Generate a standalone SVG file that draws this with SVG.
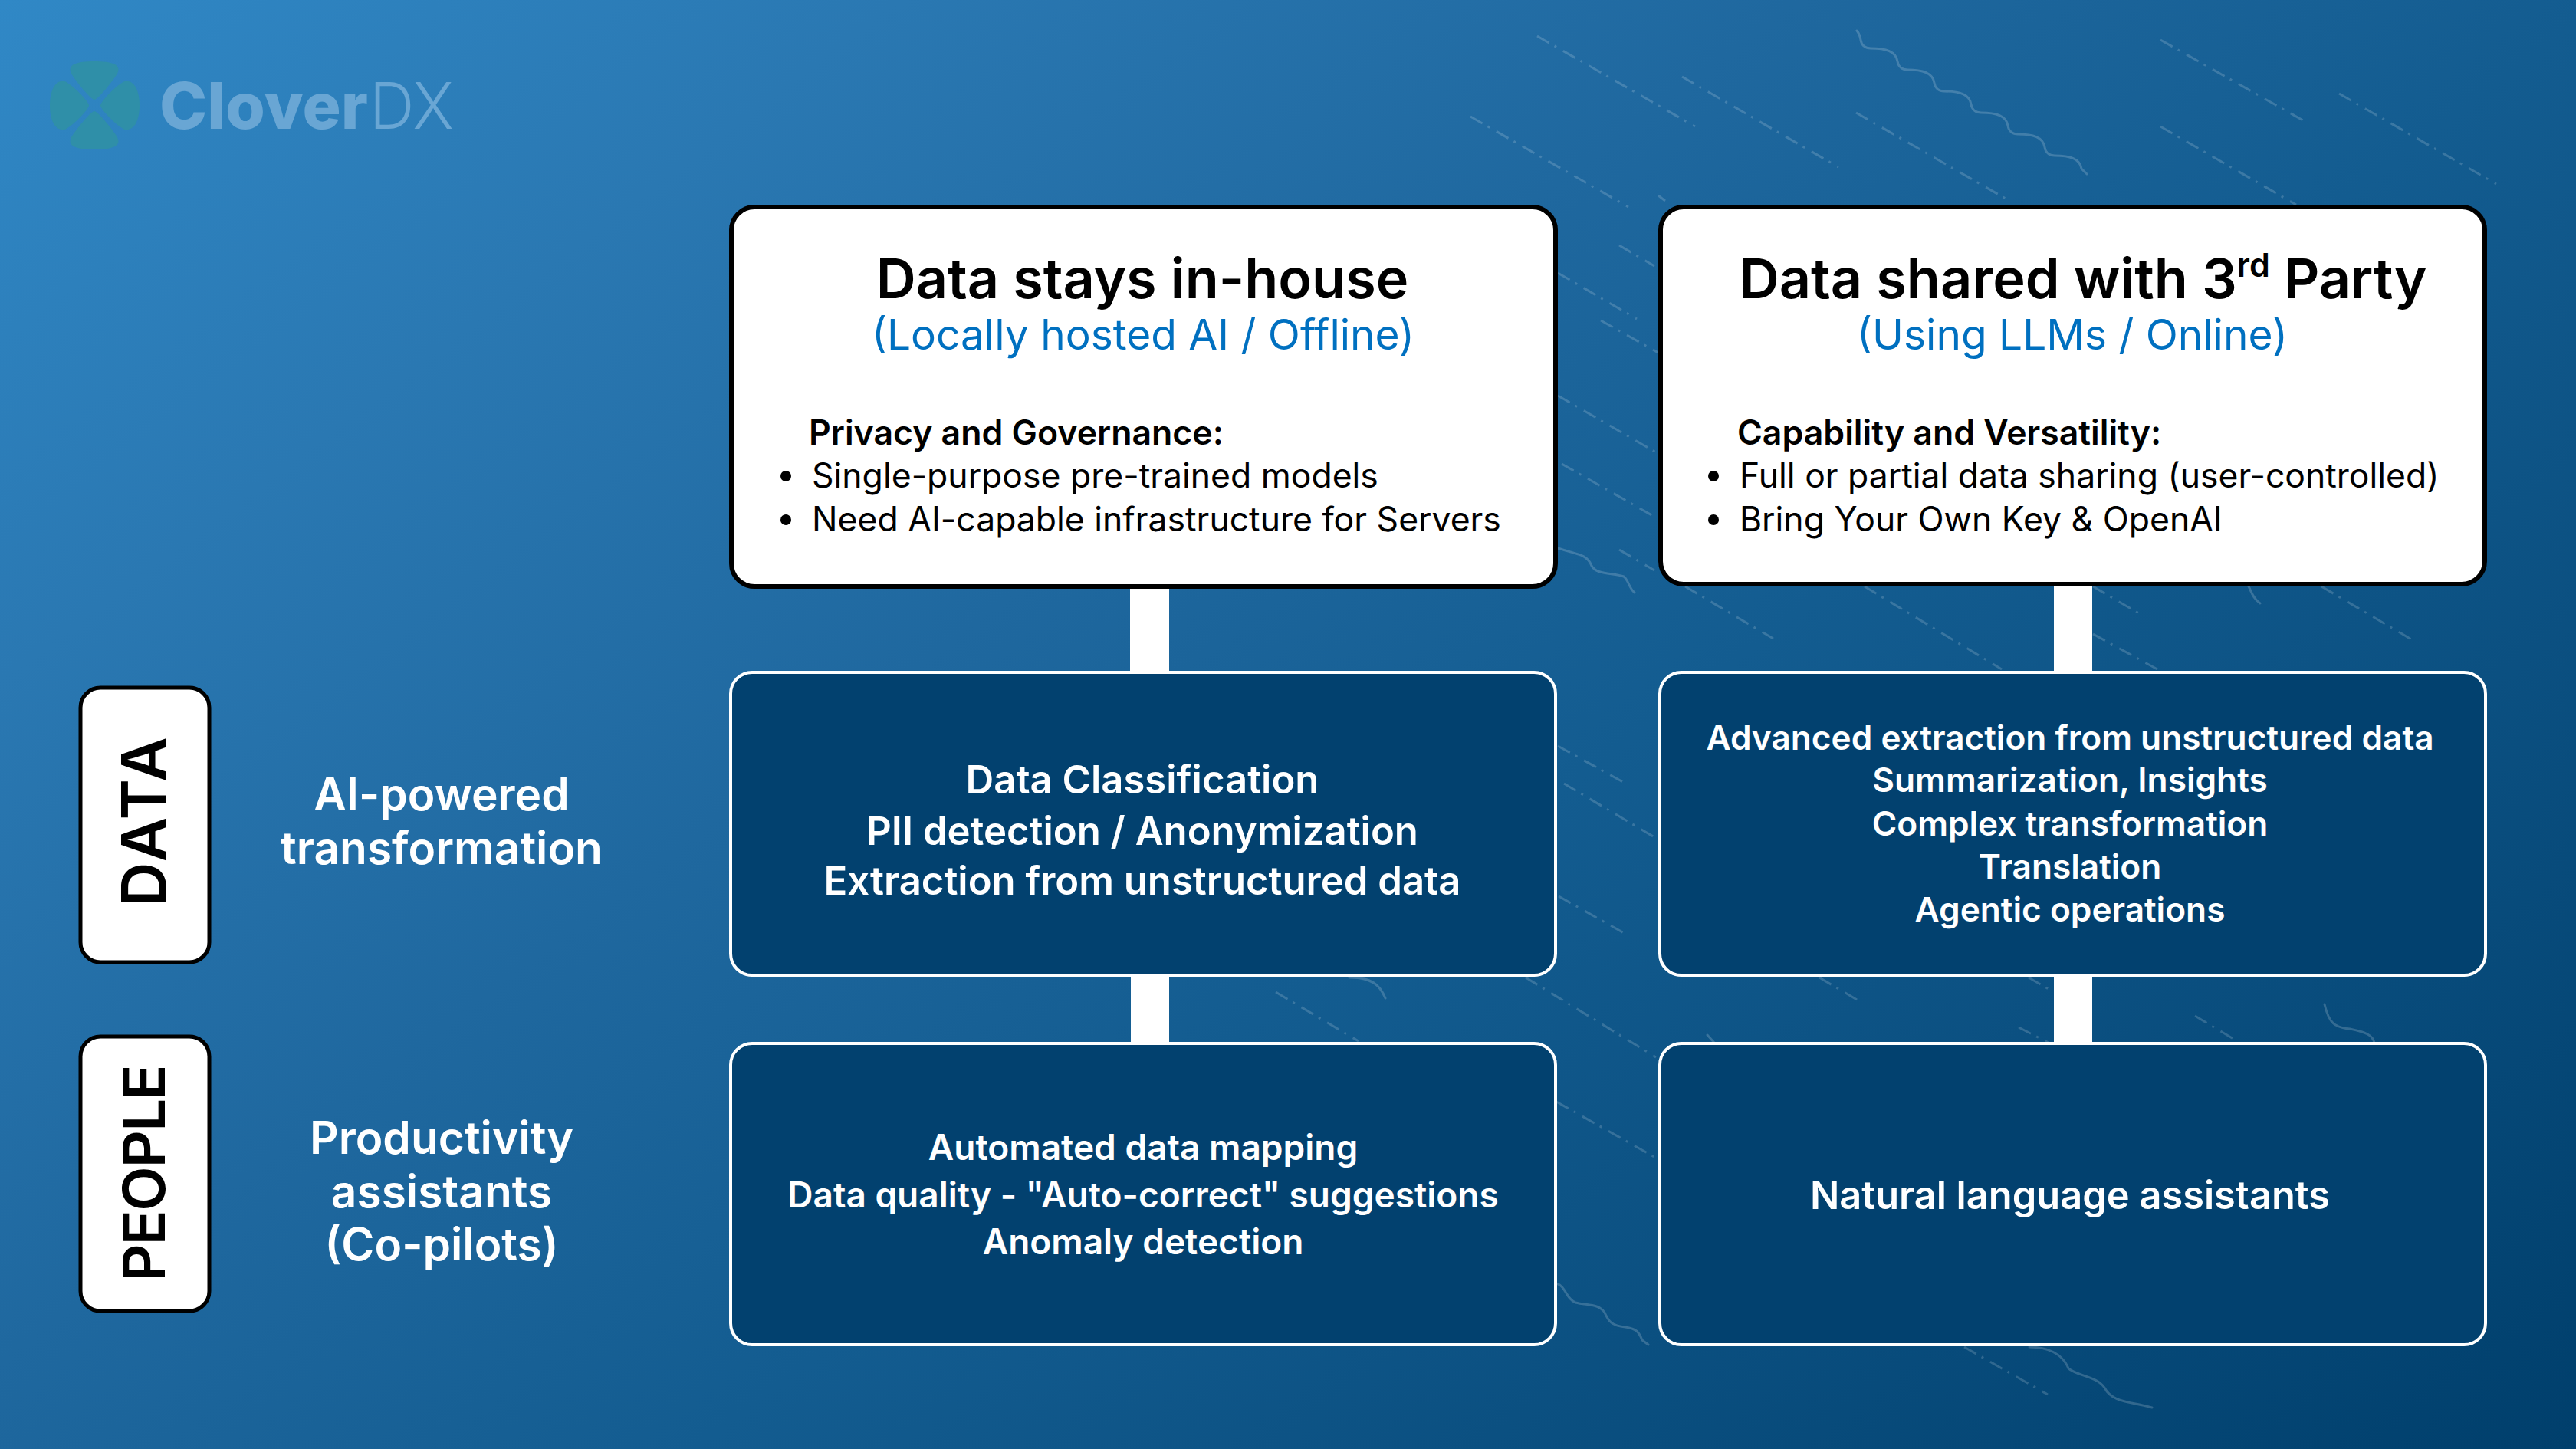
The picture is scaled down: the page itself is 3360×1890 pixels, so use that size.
<svg xmlns="http://www.w3.org/2000/svg" width="3360" height="1890" viewBox="0 0 3360 1890">
<defs>
<linearGradient id="bg" gradientUnits="userSpaceOnUse" x1="0" y1="0" x2="2135" y2="2821"><stop offset="0" stop-color="#3088c6"/><stop offset="0.2" stop-color="#2a78b2"/><stop offset="0.4" stop-color="#1f689f"/><stop offset="0.58" stop-color="#135c90"/><stop offset="1" stop-color="#003f6c"/></linearGradient>
</defs>
<style>
text{font-family:Inter,"Liberation Sans",sans-serif}
.d{fill:none;stroke:#fff;stroke-opacity:.17;stroke-width:3;stroke-dasharray:18 8 3 10}
.w{fill:none;stroke:#fff;stroke-opacity:.18;stroke-width:3;stroke-linecap:round}
.head{fill:#fff;stroke:#000;stroke-width:6}
.dark{fill:#02416f;stroke:#fff;stroke-width:4}
.side{fill:#fff;stroke:#000;stroke-width:5}
.title{font-size:72px;font-weight:600;fill:#000;text-anchor:middle}
.sub{font-size:55px;font-weight:400;fill:#0070c0;text-anchor:middle}
.h{font-size:44.6px;font-weight:600;fill:#000}
.b{font-size:44.5px;font-weight:400;fill:#000}
.t{fill:#fff;font-weight:600;text-anchor:middle}
.lab{font-size:58.6px;font-weight:600;fill:#fff;text-anchor:middle}
.rot{font-weight:600;fill:#000;text-anchor:middle}
</style>
<rect width="3360" height="1890" fill="url(#bg)"/>
<g id="decor">
<path class="d" d="M2005 47L2211 165M2194 100L2398 218M1918 152L2124 270M2421 147L2616 259M2818 52L3004 157M3051 122L3256 240M2818 165L2995 267"/>
<path class="d" d="M2198 765L2313 833M2432 765L2611 873M2730 765L2795 803M2730 827L2814 873M3028 765L3147 835"/>
<path class="d" d="M1990 1275L2160 1379M2373 1275L2429 1308M2646 1275L2677 1293M2633 1340L2672 1360M2863 1325L2918 1358M1664 1294L1772 1358"/>
<path class="d" d="M2032 356L2135 416M2088 418L2163 460M2112 320L2158 347M2032 516L2160 590M2037 605L2158 674M2112 717L2158 744M2032 973L2117 1020M2040 1022L2163 1095M2033 1169L2120 1218M2030 1437L2163 1512M2562 1757L2671 1819M2163 255L2172 262"/>
<path class="w" d="M2422 40Q2426 45 2427 52c1 7 6 11 13 11c20 0 33 4 35 17c1 7 6 11 13 11c20 0 33 4 35 17c1 7 6 11 13 11c20 0 33 4 35 17c1 7 6 11 13 11c20 0 33 4 35 17c1 7 6 11 13 11c20 0 33 4 35 17c1 7 6 11 13 11c20 0 33 4 35 17l7 7"/>
<path class="w" d="M2032 715C2055 723 2070 722 2076 738C2082 750 2105 747 2118 752C2124 756 2125 768 2132 773"/>
<path class="w" d="M2030 1674C2043 1678 2042 1694 2055 1699C2070 1703 2085 1700 2093 1712C2098 1722 2100 1729 2120 1731C2135 1733 2138 1738 2142 1748L2150 1754"/>
<path class="w" d="M2933 765C2937 772 2938 780 2948 787M1760 1275C1790 1275 1800 1285 1807 1302M3032 1310C3038 1335 3045 1340 3065 1342C3085 1346 3095 1350 3097 1360M2227 1350L2236 1360"/>
<path class="w" d="M2647 1757C2670 1757 2690 1765 2698 1785C2710 1795 2735 1795 2745 1810C2755 1830 2780 1828 2807 1836"/>
</g>
<g id="logo">
<g fill="#2f8fa8">
<path d="M123 130C118 130 97 103 93 96C87 84 100 80 123 80C146 80 159 84 153 96C149 103 128 130 123 130Z"/>
<path d="M123 145C118 145 97 172 93 179C87 191 100 195 123 195C146 195 159 191 153 179C149 172 128 145 123 145Z"/>
<path d="M116 137.5C116 132 92 108 84 106C72 104 65 118 65 137.5C65 157 72 171 84 169C92 167 116 143 116 137.5Z"/>
<path d="M131 137.5C131 132 155 108 163 106C175 104 182 118 182 137.5C182 157 175 171 163 169C155 167 131 143 131 137.5Z"/>
</g>
<text x="208" y="168" font-size="84" font-weight="800" fill="#69a6d4" textLength="272" lengthAdjust="spacingAndGlyphs">Clover</text>
<text x="482" y="168" font-size="84" font-weight="300" fill="#69a6d4" textLength="110" lengthAdjust="spacingAndGlyphs">DX</text>
</g>
<g id="connectors" fill="#fff">
<rect x="1474" y="766" width="51" height="110"/>
<rect x="1475" y="1272" width="50" height="88"/>
<rect x="2679" y="764" width="50" height="112"/>
<rect x="2679" y="1272" width="50" height="88"/>
</g>
<g id="node-inhouse">
<rect class="head" x="954" y="270" width="1075" height="495" rx="30"/>
<text class="title" x="1490" y="389">Data stays in-house</text>
<text class="sub" x="1491" y="456">(Locally hosted AI / Offline)</text>
<text class="h" x="1055" y="580">Privacy and Governance:</text>
<circle cx="1025" cy="621" r="7"/><text class="b" x="1059" y="636">Single-purpose pre-trained models</text>
<circle cx="1025" cy="678" r="7"/><text class="b" x="1059" y="693">Need AI-capable infrastructure for Servers</text>
</g>
<g id="node-thirdparty">
<rect class="head" x="2166" y="270" width="1075" height="492" rx="30"/>
<text class="title" x="2717" y="389">Data shared with 3<tspan font-size="43" dy="-28">rd</tspan><tspan dy="28"> Party</tspan></text>
<text class="sub" x="2703" y="456">(Using LLMs / Online)</text>
<text class="h" x="2266" y="580">Capability and Versatility:</text>
<circle cx="2235" cy="621" r="7"/><text class="b" x="2269" y="636">Full or partial data sharing (user-controlled)</text>
<circle cx="2235" cy="678" r="7"/><text class="b" x="2269" y="693">Bring Your Own Key &amp; OpenAI</text>
</g>
<g id="node-data-inhouse">
<rect class="dark" x="953" y="877" width="1076" height="395" rx="28"/>
<g class="t" font-size="50.8"><text x="1490" y="1035">Data Classification</text><text x="1490" y="1102">PII detection / Anonymization</text><text x="1490" y="1167">Extraction from unstructured data</text></g>
</g>
<g id="node-data-third">
<rect class="dark" x="2165" y="877" width="1077" height="395" rx="28"/>
<g class="t" font-size="44.2"><text x="2700" y="978">Advanced extraction from unstructured data</text><text x="2700" y="1033">Summarization, Insights</text><text x="2700" y="1090">Complex transformation</text><text x="2700" y="1146">Translation</text><text x="2700" y="1202">Agentic operations</text></g>
</g>
<g id="node-people-inhouse">
<rect class="dark" x="953" y="1361" width="1076" height="393" rx="28"/>
<g class="t" font-size="46"><text x="1491" y="1513">Automated data mapping</text><text x="1491" y="1575">Data quality - "Auto-correct" suggestions</text><text x="1491" y="1636">Anomaly detection</text></g>
</g>
<g id="node-people-third">
<rect class="dark" x="2165" y="1361" width="1077" height="393" rx="28"/>
<text class="t" font-size="50.5" x="2700" y="1577">Natural language assistants</text>
</g>
<g id="node-data">
<rect class="side" x="105" y="897" width="168" height="358" rx="26"/>
<text class="rot" font-size="81" textLength="222" lengthAdjust="spacing" transform="translate(217 1072) rotate(-90)">DATA</text>
</g>
<g id="node-people">
<rect class="side" x="105" y="1352" width="168" height="358" rx="26"/>
<text class="rot" font-size="76" textLength="283" lengthAdjust="spacing" transform="translate(215 1530) rotate(-90)">PEOPLE</text>
</g>
<g id="label-data"><text class="lab" x="576" y="1057">AI-powered</text><text class="lab" x="576" y="1127">transformation</text></g>
<g id="label-people"><text class="lab" x="576" y="1505">Productivity</text><text class="lab" x="576" y="1575">assistants</text><text class="lab" x="576" y="1644">(Co-pilots)</text></g>
</svg>
